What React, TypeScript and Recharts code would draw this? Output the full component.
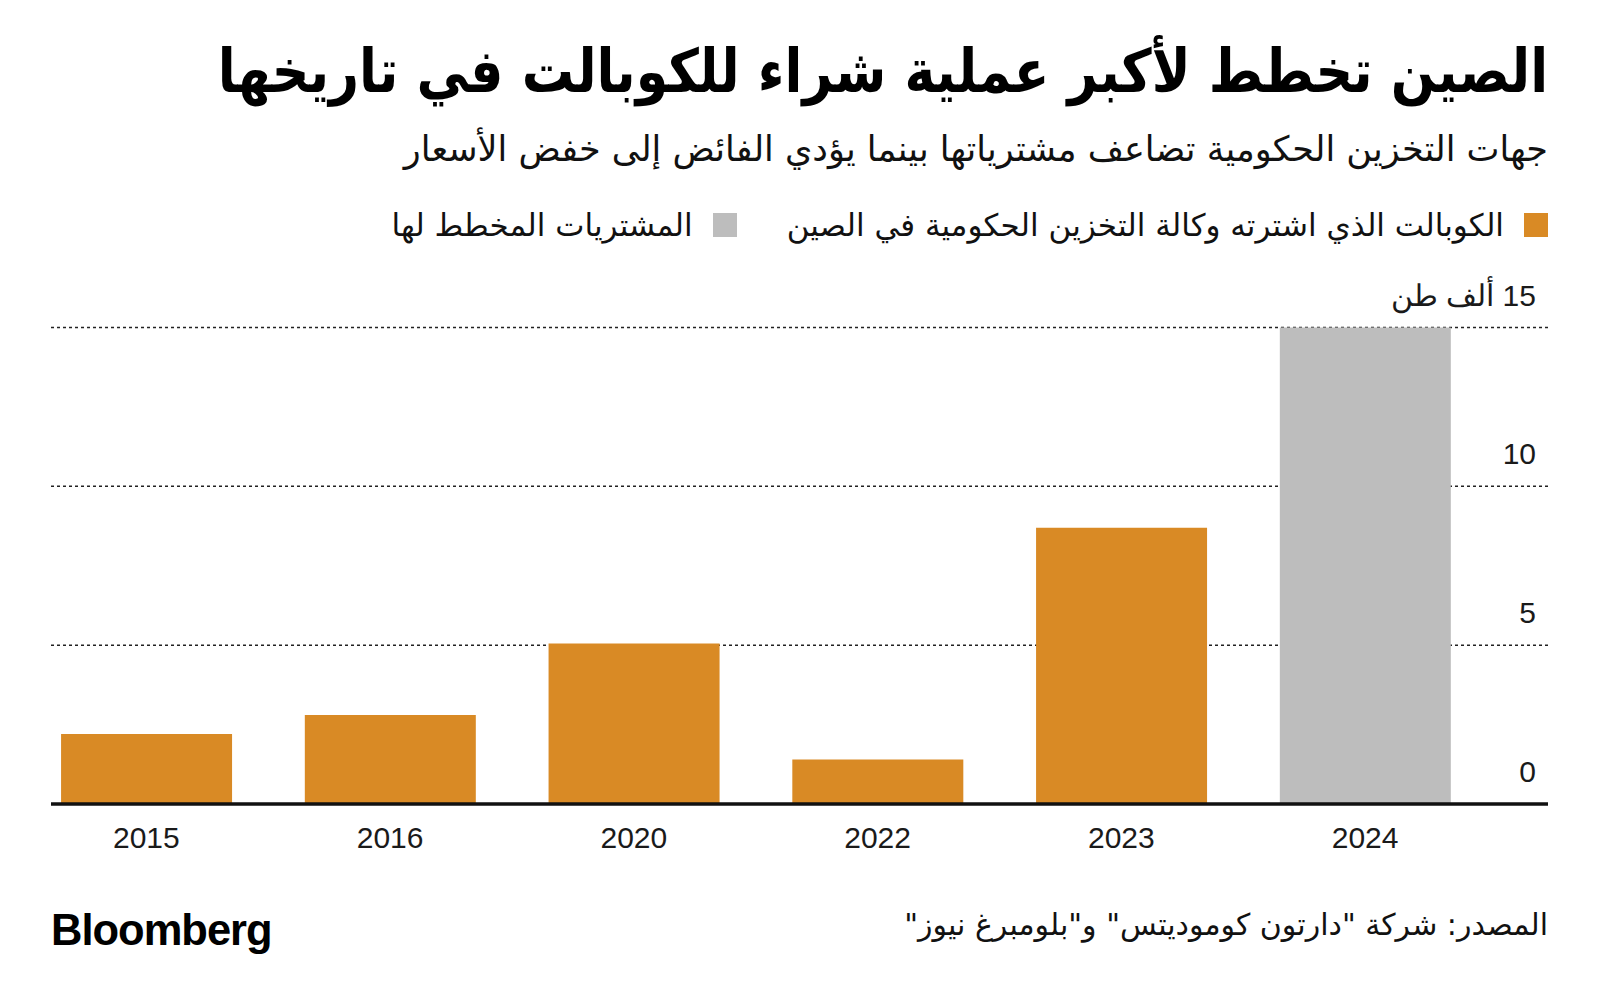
import React from 'react';
import { BarChart, Bar, XAxis, YAxis, CartesianGrid } from 'recharts';

const years = ['2015', '2016', '2020', '2022', '2023', '2024'];
const purchased = [2.2, 2.8, 5.05, 1.4, 8.7, null];
const planned = [null, null, null, null, null, 15];
const yTicks = [0, 5, 10, 15];
const seriesNames = ['الكوبالت الذي اشترته وكالة التخزين الحكومية في الصين', 'المشتريات المخطط لها'];
const seriesColors = ['#D98A25', '#BDBDBD'];
const unitLabel = 'ألف طن';
const title = 'الصين تخطط لأكبر عملية شراء للكوبالت في تاريخها';
const subtitle = 'جهات التخزين الحكومية تضاعف مشترياتها بينما يؤدي الفائض إلى خفض الأسعار';
const source = 'المصدر: شركة "دارتون كوموديتس" و"بلومبرغ نيوز"';

const data = years.map((year, i) => ({ year, purchased: purchased[i], planned: planned[i] }));

const numFont = "'Liberation Sans', Arial, sans-serif";
const arFont = "'DejaVu Sans', sans-serif";

const XTick = ({ x, y, payload }: any) => (
  <text x={x} y={y + 44} textAnchor="middle" fontSize={30} fill="#1a1a1a" fontFamily={numFont}>
    {payload.value}
  </text>
);

// unit sits left of the top tick value, LRM keeps the number on the right
const YTick = ({ x, y, payload }: any) => (
  <text x={x - 12} y={y - 22} textAnchor="end" fontSize={30} fill="#1a1a1a" fontFamily={numFont}>
    {payload.value === 15 ? `${unitLabel} \u200E${payload.value}` : payload.value}
  </text>
);

const App: React.FC = () => {
  return (
    <div style={{ position: 'absolute', left: 0, top: 0, width: 1600, height: 1008, background: '#fff', overflow: 'hidden' }}>
      <div style={{ position: 'absolute', left: 0, top: 0 }}>
        <BarChart
          width={1600}
          height={1008}
          data={data}
          margin={{ top: 327.5, right: 51, left: 51, bottom: 174 }}
          barCategoryGap="15%"
        >
          <CartesianGrid vertical={false} stroke="#222" strokeDasharray="3 3" strokeWidth={1.5} />
          <XAxis
            dataKey="year"
            height={30}
            padding={{ left: -26.5, right: 61 }}
            axisLine={{ stroke: '#111', strokeWidth: 3.5 }}
            tickLine={false}
            tickSize={0}
            tickMargin={0}
            tick={<XTick />}
            interval={0}
          />
          <YAxis
            orientation="right"
            width={1}
            domain={[0, 15]}
            ticks={yTicks}
            axisLine={false}
            tickLine={false}
            tickSize={0}
            tickMargin={0}
            tick={<YTick />}
          />
          <Bar dataKey="purchased" stackId="a" fill={seriesColors[0]} isAnimationActive={false} />
          <Bar dataKey="planned" stackId="a" fill={seriesColors[1]} isAnimationActive={false} />
        </BarChart>
      </div>

      <div dir="rtl" style={{ position: 'absolute', right: 52, top: 35, fontFamily: arFont, fontWeight: 700, fontSize: 60, lineHeight: '72px', color: '#000', whiteSpace: 'nowrap', transform: 'scaleX(0.87)', transformOrigin: 'right center' }}>
        {title}
      </div>
      <div dir="rtl" style={{ position: 'absolute', right: 52, top: 128, fontFamily: arFont, fontSize: 35, lineHeight: '42px', color: '#111', whiteSpace: 'nowrap' }}>
        {subtitle}
      </div>

      <div dir="rtl" style={{ position: 'absolute', right: 52, top: 206, display: 'flex', alignItems: 'center', gap: 50, fontFamily: arFont, fontSize: 31, lineHeight: '38px', color: '#111', whiteSpace: 'nowrap' }}>
        {seriesNames.map((name, i) => (
          <div key={name} style={{ display: 'flex', alignItems: 'center', gap: 20 }}>
            <span style={{ width: 24, height: 24, background: seriesColors[i], display: 'inline-block' }} />
            <span>{name}</span>
          </div>
        ))}
      </div>

      <div style={{ position: 'absolute', left: 51, top: 905, fontFamily: numFont, fontWeight: 700, fontSize: 43.5, lineHeight: '50px', letterSpacing: -1, color: '#000' }}>
        Bloomberg
      </div>
      <div dir="rtl" style={{ position: 'absolute', right: 52, top: 906, fontFamily: arFont, fontSize: 30, lineHeight: '38px', color: '#111', whiteSpace: 'nowrap' }}>
        {source}
      </div>
    </div>
  );
};

export default App;
